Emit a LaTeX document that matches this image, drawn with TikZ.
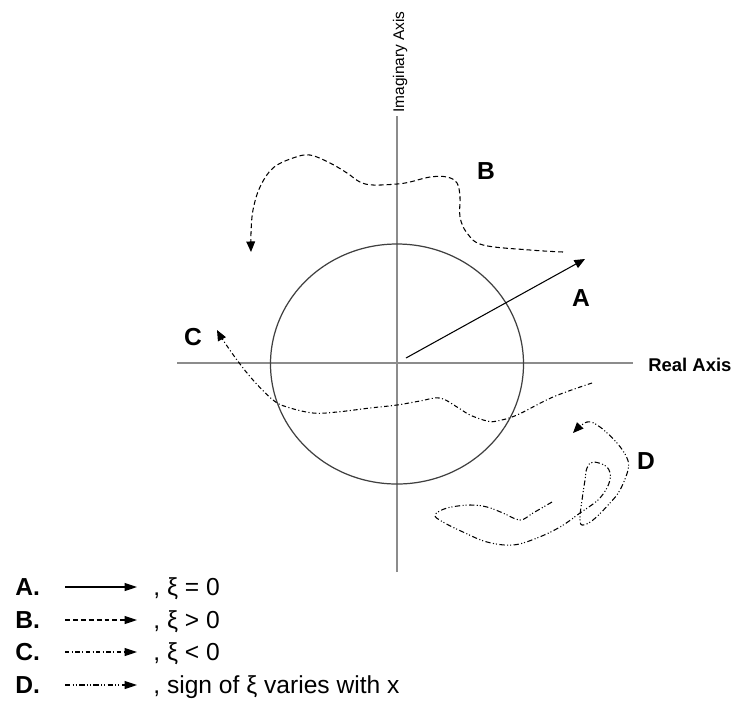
\documentclass[tikz,border=0pt]{standalone}
\usepackage{fontspec}
\setmainfont{Liberation Sans}
\usetikzlibrary{arrows.meta}

\begin{document}
\begin{tikzpicture}[x=0.02cm, y=-0.02cm,
        axis/.style={line width=1pt, black!45},
        tip/.style={-{Triangle[length=6pt, width=5pt]}},
        legtip/.style={-{Triangle[length=7pt, width=4.5pt]}},
        pathA/.style={line width=0.6pt},
        pathB/.style={line width=0.6pt, dash pattern=on 2.8pt off 1.7pt},
        pathC/.style={line width=0.6pt, dash pattern=on 2.5pt off 1.4pt on 0.6pt off 1.4pt},
        pathD/.style={line width=0.6pt, dash pattern=on 3pt off 1.4pt on 0.6pt off 1.1pt on 0.6pt off 1.4pt},
        lbl/.style={inner sep=0pt, font=\fontsize{14}{16}\selectfont\bfseries},
        legkey/.style={anchor=base west, inner sep=0pt, font=\fontsize{14}{16}\selectfont\bfseries},
        legtext/.style={anchor=base west, inner sep=0pt, font=\fontsize{14}{16}\selectfont}]
        \useasboundingbox (0,0) rectangle (737,708);

        % Axes
        \draw[axis] (177,363) -- (633,363);
        \node[anchor=west, inner sep=0pt, font=\fontsize{10.5}{12}\selectfont\bfseries] (realaxis) at (648,365) {Real Axis};
        \draw[axis] (397,572) -- (397,116);
        \node[rotate=90, anchor=west, inner sep=0pt, font=\fontsize{8.8}{10}\selectfont] (imagaxis) at (400,113) {Imaginary Axis};

        % Unit circle
        \draw[black!75, line width=0.7pt] (397,364) ellipse [x radius=126.5, y radius=120];

        % Path A
        \coordinate (Astart) at (406,358);
        \coordinate (Aend) at (585,259);
        \draw[pathA, tip] (Astart) -- (Aend);
        \node[lbl] (labA) at (581,298) {A};

        % Path B
        \draw[pathB, tip] plot[smooth, tension=0.6] coordinates {
            (563,252) (530,250) (483,245) (467,233) (460,217) (460,197) (457,183)
            (447,177) (430,177) (410,182) (397,184) (373,185) (360,182) (347,173)
            (330,163) (310,155) (293,158) (273,168) (260,187) (253,210) (251,233) (251,252)};
        \node[lbl] (labB) at (486,171) {B};

        % Path C
        \draw[pathC, tip] plot[smooth, tension=0.6] coordinates {
            (592,383) (553,397) (517,415) (497,421) (487,421) (470,415) (457,407)
            (440,398) (420,401) (397,405) (370,408) (337,412) (313,413) (287,407)
            (273,400) (253,380) (237,360) (223,340) (217,330)};
        \node[lbl] (labC) at (193,337) {C};

        % Path D
        \draw[pathD, tip] plot[smooth, tension=0.6] coordinates {
            (552,502) (533,513) (520,520) (503,513) (487,507) (470,505) (447,508)
            (435,515) (443,522) (463,532) (487,542) (513,545) (537,538) (560,527)
            (580,513) (600,498) (610,480) (607,467) (593,462) (587,468) (585,480)
            (582,500) (580,517) (582,525) (593,520) (610,503) (620,490) (628,470)
            (627,458) (617,443) (600,427) (587,422) (573,433)};
        \node[lbl] (labD) at (646,461) {D};

        % Legend
        \node[legkey] (keyA) at (15,595) {A.};
        \draw[pathA, legtip] (65,587) -- (137,587);
        \node[legtext] (txtA) at (153,595) {, ξ = 0};

        \node[legkey] (keyB) at (15,628) {B.};
        \draw[pathB, legtip] (65,620) -- (137,620);
        \node[legtext] (txtB) at (153,628) {, ξ > 0};

        \node[legkey] (keyC) at (15,660) {C.};
        \draw[pathC, legtip] (65,652) -- (137,652);
        \node[legtext] (txtC) at (153,660) {, ξ < 0};

        \node[legkey] (keyD) at (15,693) {D.};
        \draw[pathD, legtip] (65,685) -- (137,685);
        \node[legtext] (txtD) at (153,693) {, sign of ξ varies with x};
    \end{tikzpicture}
\end{document}
